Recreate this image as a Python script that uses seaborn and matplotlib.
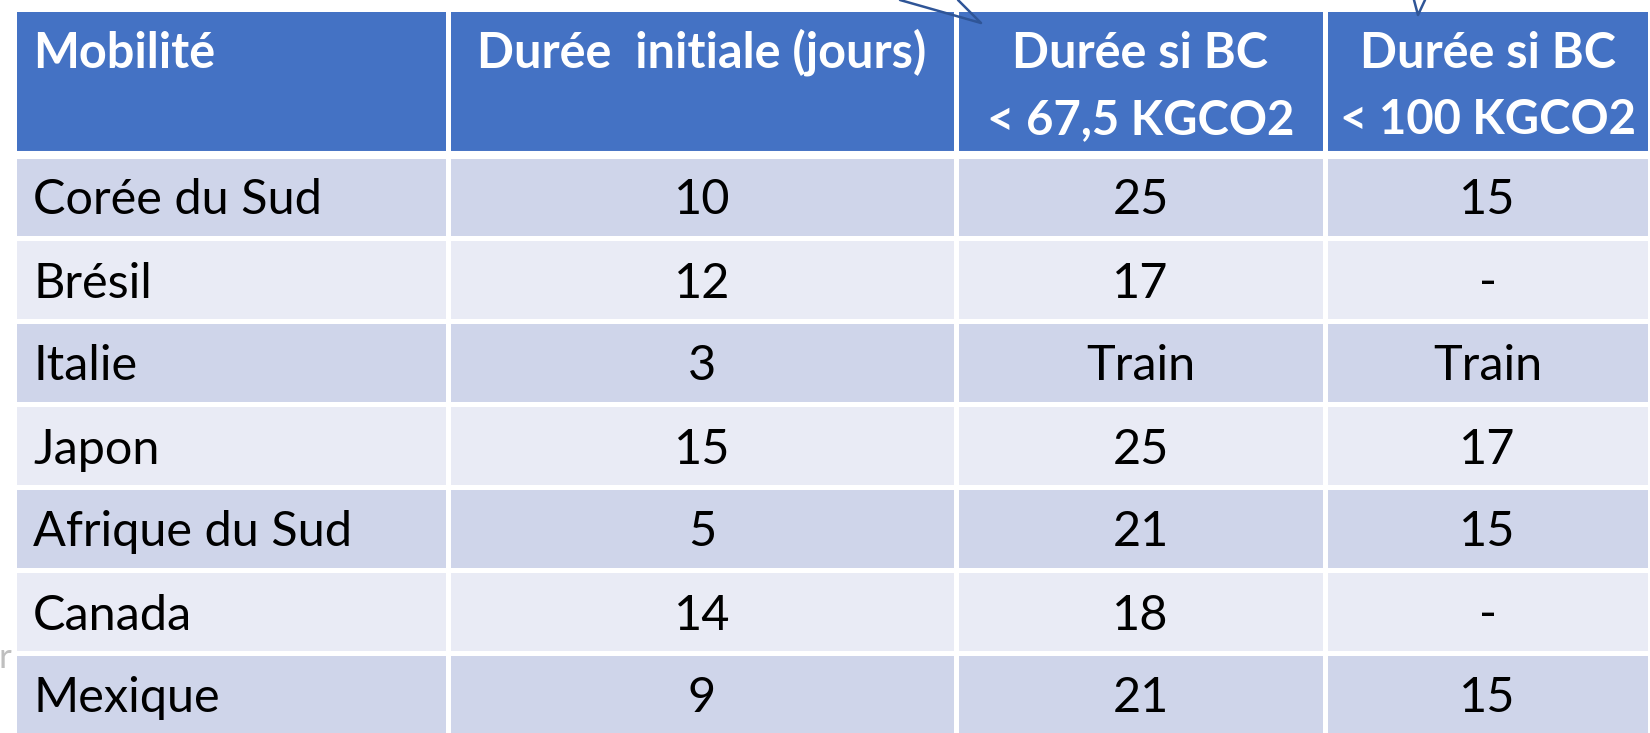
import numpy as np
import pandas as pd
import seaborn as sns
import matplotlib.pyplot as plt
from matplotlib.colors import ListedColormap
from matplotlib.lines import Line2D

#%% Data
header_l1 = ['Mobilité', 'Durée  initiale (jours)', 'Durée si BC', 'Durée si BC']
header_l2 = ['', '', '< 67,5 KGCO2', '< 100 KGCO2']
pays = ['Corée du Sud', 'Brésil', 'Italie', 'Japon', 'Afrique du Sud', 'Canada', 'Mexique']
duree_initiale = ['10', '12', '3', '15', '5', '14', '9']
duree_bc_675 = ['25', '17', 'Train', '25', '21', '18', '21']
duree_bc_100 = ['15', '-', 'Train', '17', '15', '-', '15']

#%% Layout (pixels of the slide)
W, H = 1650, 733
col_px = [14, 448, 956, 1325, 1650]
row_px = [9, 155, 238, 321, 404, 487, 570, 653, 736]
c_head, c_dark, c_light = '#4472C4', '#CFD5EA', '#E9EBF5'

sns.set_theme(style='white')
plt.rcParams['font.family'] = ['Lato', 'DejaVu Sans']


def piecewise(px):
    px = np.asarray(px, dtype=float)
    idx = np.arange(len(px), dtype=float)
    idx = np.r_[-1000, idx, len(px) - 1 + 1000]
    pxe = np.r_[px[0] - 1000 * (px[1] - px[0]), px, px[-1] + 1000 * (px[-1] - px[-2])]
    return (lambda v: np.interp(v, idx, pxe)), (lambda p: np.interp(p, pxe, idx))


fx, ix = piecewise(col_px)
fy, iy = piecewise(row_px)

#%% Table as a heatmap of row styles
table = pd.DataFrame([pays, duree_initiale, duree_bc_675, duree_bc_100]).T
shade = np.array([[0] * 4] + [[1 + (i % 2)] * 4 for i in range(len(pays))])

fig = plt.figure(figsize=(W / 100, H / 100), dpi=100)
ax = fig.add_axes([0, 0, 1, 1])
sns.heatmap(shade, ax=ax, cmap=ListedColormap([c_head, c_dark, c_light]),
            vmin=-0.5, vmax=2.5, cbar=False, linewidths=2.2, linecolor='white',
            xticklabels=False, yticklabels=False)
ax.set_xscale('function', functions=(fx, ix))
ax.set_yscale('function', functions=(fy, iy))
ax.set_xlim(ix(0), ix(W))
ax.set_ylim(iy(H), iy(0))
ax.axhline(1, color='white', lw=5.8)
ax.set_axis_off()

# header
for c in range(4):
    if c == 0:
        xy, dx, ha = (0, 0), 19, 'left'
    else:
        xy, dx, ha = (c + 0.5, 0), 0, 'center'
    ax.annotate(header_l1[c], xy=xy, xytext=(dx, -59), textcoords='offset pixels',
                ha=ha, va='baseline', color='white', fontsize=35, fontweight='bold')
    if header_l2[c]:
        ax.annotate(header_l2[c], xy=xy, xytext=(dx, -125), textcoords='offset pixels',
                    ha=ha, va='baseline', color='white', fontsize=34, fontweight='bold')

# body
for r in range(len(pays)):
    for c in range(4):
        if c == 0:
            xy, dx, ha = (0, r + 1.5), 19, 'left'
        else:
            xy, dx, ha = (c + 0.5, r + 1.5), 0, 'center'
        ax.annotate(table.iloc[r, c], xy=xy, xytext=(dx, -18), textcoords='offset pixels',
                    ha=ha, va='baseline', color='black', fontsize=35)

# slide leftovers: callout arrow tips and a clipped letter
for xs, ys in [([900, 981, 958], [0, 23, 0]), ([1414, 1418, 1425], [0, 15, 0])]:
    fig.add_artist(Line2D(np.array(xs) / W, 1 - np.array(ys) / H,
                          transform=fig.transFigure, color='#2F5597', lw=1.8))
fig.text(11 / W, 1 - 668 / H, 'r', ha='right', va='baseline', color='#BFBFBF', fontsize=25)

fig.savefig('out.png', dpi=100)
